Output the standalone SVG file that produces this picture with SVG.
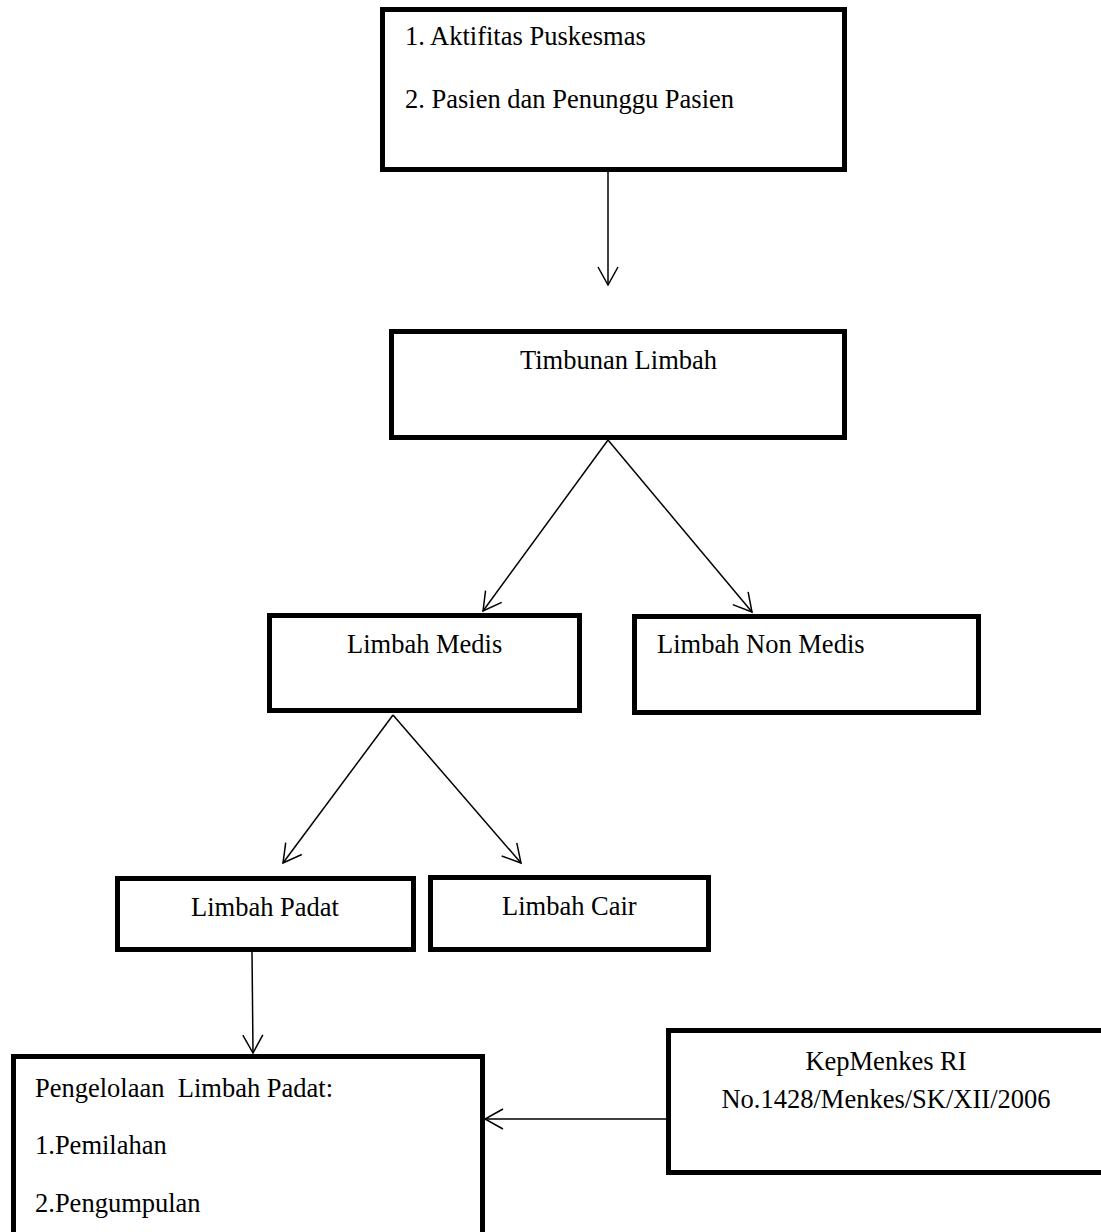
<svg xmlns="http://www.w3.org/2000/svg" width="1101" height="1232" viewBox="0 0 1101 1232">
<style>
.box{fill:#fff;stroke:#000;stroke-width:5}
.t{font-family:"Liberation Serif","Times New Roman",serif;font-size:26.5px;fill:#000;white-space:pre}
.c{fill:none;stroke:#000;stroke-width:1.5}
</style>
<defs>
<marker id="ah" markerUnits="userSpaceOnUse" markerWidth="24" markerHeight="24" viewBox="-22 -12 24 24" refX="0" refY="0" orient="auto">
<path d="M-18,-10 L0,0 L-18,10" fill="none" stroke="#000" stroke-width="1.5"/>
</marker>
</defs>
<rect width="1101" height="1232" fill="#fff"/>
<g id="connectors">
<line class="c" x1="608" y1="172" x2="608" y2="285" marker-end="url(#ah)"/>
<line class="c" x1="608" y1="440" x2="483" y2="611" marker-end="url(#ah)"/>
<line class="c" x1="608" y1="440" x2="752" y2="612" marker-end="url(#ah)"/>
<line class="c" x1="393" y1="715" x2="283" y2="863" marker-end="url(#ah)"/>
<line class="c" x1="393" y1="715" x2="521" y2="863" marker-end="url(#ah)"/>
<line class="c" x1="252" y1="951" x2="253" y2="1053" marker-end="url(#ah)"/>
<line class="c" x1="666" y1="1119" x2="485" y2="1119" marker-end="url(#ah)"/>
</g>
<g id="sumber">
<rect class="box" x="382.5" y="9.5" width="462" height="160"/>
<text class="t" x="405" y="45">1. Aktifitas Puskesmas</text>
<text class="t" x="405" y="108">2. Pasien dan Penunggu Pasien</text>
</g>
<g id="timbunan">
<rect class="box" x="391.5" y="331.5" width="453" height="106"/>
<text class="t" x="520" y="369">Timbunan Limbah</text>
</g>
<g id="medis">
<rect class="box" x="269.5" y="615.5" width="310" height="95"/>
<text class="t" x="347" y="653">Limbah Medis</text>
</g>
<g id="nonmedis">
<rect class="box" x="634.5" y="616.5" width="344" height="96"/>
<text class="t" x="657" y="653">Limbah Non Medis</text>
</g>
<g id="padat">
<rect class="box" x="117.5" y="878.5" width="296" height="71"/>
<text class="t" x="191" y="916">Limbah Padat</text>
</g>
<g id="cair">
<rect class="box" x="430.5" y="877.5" width="278" height="72"/>
<text class="t" x="502" y="915">Limbah Cair</text>
</g>
<g id="pengelolaan">
<rect class="box" x="13.5" y="1056.5" width="469" height="250"/>
<text class="t" x="35" y="1097">Pengelolaan  Limbah Padat:</text>
<text class="t" x="35" y="1154">1.Pemilahan</text>
<text class="t" x="35" y="1212">2.Pengumpulan</text>
</g>
<g id="kepmenkes">
<rect class="box" x="668.5" y="1030.5" width="460" height="142"/>
<text class="t" x="886" y="1070" text-anchor="middle">KepMenkes RI</text>
<text class="t" x="886" y="1108" text-anchor="middle">No.1428/Menkes/SK/XII/2006</text>
</g>
</svg>
